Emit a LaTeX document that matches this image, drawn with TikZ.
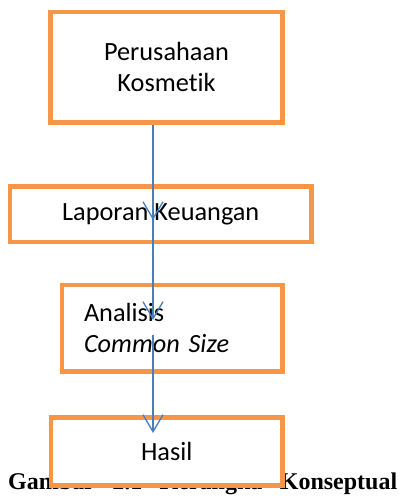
\documentclass[tikz,border=0pt]{standalone}
\usepackage{fontspec}
\setmainfont{Carlito}[Ligatures={NoCommon}]
\newfontfamily\capfont{Liberation Serif}
\usepackage{xcolor}
\usetikzlibrary{arrows.meta}
\definecolor{boxline}{HTML}{F79646}
\definecolor{arrline}{HTML}{4A7EBB}
\tikzset{
  box/.style={draw=boxline, line width=4.6pt, fill=white, inner sep=0pt,
    font=\fontsize{26.3}{31}\selectfont},
  arr/.style={draw=arrline, line width=1.3pt,
    -{Straight Barb[length=17pt,width=20pt,line width=1.3pt]}},
  caption/.style={inner sep=0pt, anchor=base west,
    font=\capfont\bfseries\fontsize{24}{28}\selectfont}
}
\begin{document}
\begin{tikzpicture}[x=1pt, y=-1pt]
  \useasboundingbox (0,0) rectangle (402,496);

  \node[caption] (cap) at (8,489) {\makebox[389pt][s]{Gambar 2.1 Kerangka Konseptual}};

  \node[box, minimum width=232pt, minimum height=110.5pt, align=center] (firm) at (166.5,67.25) {Perusahaan\\Kosmetik};
  \node[box, minimum width=301.5pt, minimum height=55.5pt] (report) at (160.75,214.25) {Laporan Keuangan};
  \node[box, minimum width=220.5pt, minimum height=86.5pt, inner xsep=22pt, text width=176.5pt, align=left] (cs) at (172.25,328.25) {Analisis\\\textit{Common Size}};
  \node[box, minimum width=231.5pt, minimum height=68pt] (result) at (166.75,451.5) {Hasil};

  \coordinate (t1) at (153,220);
  \coordinate (s2) at (153,214);
  \coordinate (t2) at (153,320);
  \coordinate (s3) at (153,335);
  \coordinate (t3) at (153,433);

  \draw[arr] (t1 |- firm.south) -- (t1);
  \draw[arr] (s2) -- (t2);
  \draw[arr] (s3) -- (t3);
\end{tikzpicture}
\end{document}
